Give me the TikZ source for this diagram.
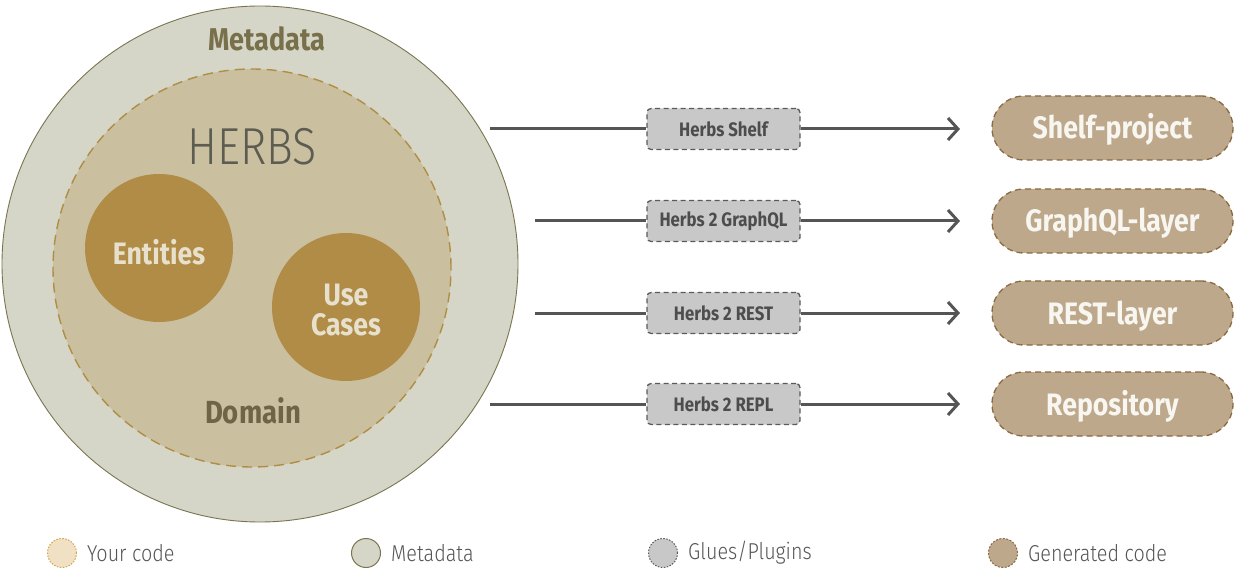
\documentclass[tikz,border=0pt]{standalone}
\usepackage{fontspec}
\setmainfont{Fira Sans}[FakeStretch=0.86]
\newfontfamily\lightfont{Fira Sans Light}[FakeStretch=0.86]
\usetikzlibrary{arrows.meta}
\definecolor{metafill}{HTML}{D6D6C8}
\definecolor{metaborder}{HTML}{7A7550}
\definecolor{domfill}{HTML}{CABF9F}
\definecolor{domborder}{HTML}{B08D45}
\definecolor{corefill}{HTML}{B08C46}
\definecolor{coretext}{HTML}{E6E0CC}
\definecolor{gatefill}{HTML}{C8C8C8}
\definecolor{gateborder}{HTML}{5A5A5A}
\definecolor{gatetext}{HTML}{4D4D4D}
\definecolor{genfill}{HTML}{BEA88C}
\definecolor{genborder}{HTML}{8A6A40}
\definecolor{gentext}{HTML}{F8F6F0}
\definecolor{linecol}{HTML}{555555}
\definecolor{yourfill}{HTML}{F0E1C4}
\definecolor{yourborder}{HTML}{D4A448}
\definecolor{titlecol}{HTML}{78704A}
\definecolor{domtext}{HTML}{6E6446}
\definecolor{herbscol}{HTML}{5C5C52}
\definecolor{legtext}{HTML}{555555}
\begin{document}
\begin{tikzpicture}[x=1pt,y=-1pt,
  corec/.style={circle, fill=corefill, minimum size=148pt, inner sep=0pt},
  coret/.style={text=coretext, font=\bfseries\fontsize{31}{30}\selectfont, align=center, inner sep=0pt},
  gate/.style={draw=gateborder, fill=gatefill, line width=1.3pt, dash pattern=on 5pt off 3.5pt,
    rounded corners=4pt, minimum width=153pt, minimum height=41pt, inner sep=0pt,
    text=gatetext, font=\bfseries\fontsize{19.5}{22}\selectfont},
  gen/.style={draw=genborder, fill=genfill, line width=1.3pt, dash pattern=on 6pt off 4pt,
    rounded corners=32pt, minimum width=241pt, minimum height=64pt, inner sep=0pt,
    text height=22pt, text depth=0pt,
    text=gentext, font=\bfseries\fontsize{31}{34}\selectfont},
  conn/.style={draw=linecol, line width=3pt},
  arr/.style={conn, -{Straight Barb[length=10pt, width=22pt, line width=3pt]}},
  legc/.style={circle, minimum size=29pt, inner sep=0pt, line width=1pt},
  legt/.style={anchor=west, text=legtext, font=\lightfont\fontsize{23}{26}\selectfont, inner sep=0pt}
]
\useasboundingbox (0,0) rectangle (1235,580);

% outer metadata circle
\node[circle, draw=metaborder, fill=metafill, line width=0.9pt, minimum size=516pt, inner sep=0pt] (meta) at (260,264) {};
% domain circle
\node[circle, draw=domborder, fill=domfill, line width=1.4pt, dash pattern=on 10pt off 6pt,
      minimum size=398pt, inner sep=0pt] (domain) at (252,268) {};

\node[text=titlecol, font=\bfseries\fontsize{31.5}{34}\selectfont] (metatitle) at (267,39) {Metadata};
\node[text=herbscol, font=\lightfont\fontsize{52}{56}\selectfont] (herbs) at (252,147) {HERBS};
\node[text=domtext, font=\bfseries\fontsize{32}{34}\selectfont] (domtitle) at (253,411) {Domain};

\node[corec] (ent) at (159,248) {};
\node[coret] (enttext) at (159,252) {Entities};
\node[corec] (uc) at (346,307) {};
\node[coret] (uctext) at (346,310) {Use\\Cases};

% gates
\node[gate] (g1) at (723.5,129) {Herbs Shelf};
\node[gate] (g2) at (723.5,221) {Herbs 2 GraphQL};
\node[gate] (g3) at (723.5,313) {Herbs 2 REST};
\node[gate] (g4) at (723.5,404) {Herbs 2 REPL};

% generated
\node[gen] (p1) at (1112.5,128) {Shelf-project};
\node[gen] (p2) at (1112.5,221) {GraphQL-layer};
\node[gen] (p3) at (1112.5,313) {REST-layer};
\node[gen] (p4) at (1112.5,404) {Repository};

% connector ends
\coordinate (s1) at (490,129);
\coordinate (s2) at (535,221);
\coordinate (s3) at (535,313);
\coordinate (s4) at (490,404);
\coordinate (e1) at (960,129);
\coordinate (e2) at (960,221);
\coordinate (e3) at (960,313);
\coordinate (e4) at (960,404);

\foreach \i in {1,2,3,4}{
  \draw[conn] (s\i) -- (g\i.west);
  \draw[arr] (g\i.east) -- (e\i);
}

% legend
\node[legc, fill=yourfill, draw=yourborder, dash pattern=on 1.5pt off 1.5pt] (l1) at (62,553) {};
\node[legt] (t1) at (87,553) {Your code};
\node[legc, fill=metafill, draw=metaborder] (l2) at (366,553) {};
\node[legt] (t2) at (391,553) {Metadata};
\node[legc, fill=gatefill, draw=gateborder, dash pattern=on 1.5pt off 1.5pt] (l3) at (663,553) {};
\node[legt] (t3) at (688,553) {Glues/Plugins};
\node[legc, fill=genfill, draw=genborder, dash pattern=on 2pt off 1.5pt] (l4) at (1003,553) {};
\node[legt] (t4) at (1028,553) {Generated code};
\end{tikzpicture}
\end{document}
